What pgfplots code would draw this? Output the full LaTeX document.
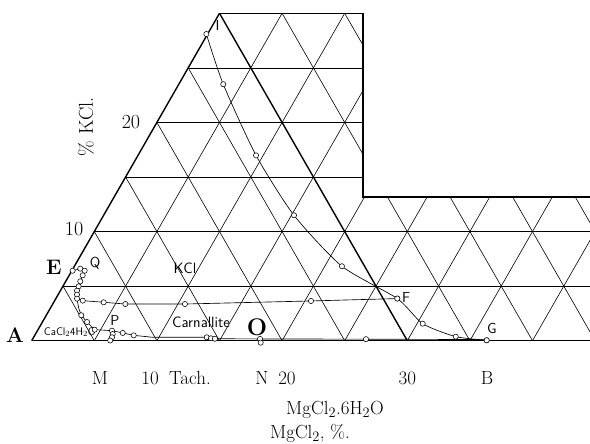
\documentclass[border=0pt]{standalone}
\usepackage{pgfplots}
\pgfplotsset{compat=1.18}
\newcommand{\ser}{\fontsize{19}{22}\selectfont\rmfamily}
\newcommand{\serl}{\fontsize{20}{23}\selectfont\rmfamily}
\newcommand{\serb}{\fontsize{21}{23}\selectfont\rmfamily\bfseries}
\newcommand{\ssm}{\fontsize{15}{17}\selectfont\sffamily}
\newcommand{\ssl}{\fontsize{14.5}{16}\selectfont\sffamily}
\begin{document}
\begin{tikzpicture}
\path[use as bounding box] (0,0) rectangle (590pt,444pt);
\begin{axis}[at={(0,0)}, anchor=south west, scale only axis, width=590pt, height=444pt,
  xmin=-2.532, xmax=44.593, ymin=-9.466, ymax=31.219, hide axis, clip=true,
  grd/.style={black, line width=0.6pt, forget plot},
  thk/.style={black, line width=1.4pt, forget plot},
  dat/.style={black, line width=0.65pt, mark=*, mark size=2.6pt, mark options={fill=white, line width=0.55pt, solid}},
  ]
% ---- horizontal grid lines
\addplot[thk] coordinates {(0,0) (44.7,0)};
\addplot[grd] coordinates {(2.5,5) (44.7,5)};
\addplot[grd] coordinates {(5,10) (44.7,10)};
\addplot[grd] coordinates {(7.5,15) (26.45,15)};
\addplot[grd] coordinates {(10,20) (26.45,20)};
\addplot[grd] coordinates {(12.5,25) (26.45,25)};
\addplot[thk] coordinates {(15,30) (26.45,30)};
% ---- boundary step
\addplot[thk] coordinates {(26.45,30) (26.45,13.15) (44.7,13.15)};
% ---- positive slope lines
\addplot[thk] coordinates {(0,0) (15,30)};
\addplot[grd] coordinates {(5,0) (20,30)};
\addplot[grd] coordinates {(10,0) (25,30)};
\addplot[grd] coordinates {(15,0) (26.45,22.9)};
\addplot[grd] coordinates {(20,0) (26.575,13.15)};
\addplot[grd] coordinates {(25,0) (31.575,13.15)};
\addplot[grd] coordinates {(30,0) (36.575,13.15)};
\addplot[grd] coordinates {(35,0) (41.575,13.15)};
\addplot[grd] coordinates {(40,0) (46.575,13.15)};
% ---- negative slope lines
\addplot[grd] coordinates {(5,0) (2.5,5)};
\addplot[grd] coordinates {(10,0) (5,10)};
\addplot[grd] coordinates {(15,0) (7.5,15)};
\addplot[grd] coordinates {(20,0) (10,20)};
\addplot[grd] coordinates {(25,0) (12.5,25)};
\addplot[thk] coordinates {(30,0) (15,30)};
\addplot[grd] coordinates {(35,0) (28.425,13.15)};
\addplot[grd] coordinates {(26.45,17.1) (20,30)};
\addplot[grd] coordinates {(40,0) (33.425,13.15)};
\addplot[grd] coordinates {(26.45,27.1) (25,30)};
\addplot[grd] coordinates {(45,0) (38.425,13.15)};
\addplot[grd] coordinates {(50,0) (43.425,13.15)};
% ---- curve I - F - G
\addplot[dat, smooth, tension=0.4] coordinates {(13.95,28.1) (15.30,23.50) (17.92,16.98) (20.95,11.49) (24.78,6.82) (29.20,3.86) (31.23,1.56) (33.87,0.37) (36.34,0.04)};
% ---- E cluster descending to P
\addplot[black, line width=0.65pt] coordinates {(3.62,3.85) (3.75,3.00) (3.96,2.33) (4.42,1.71) (5.03,1.01) (6.41,0.92)};
\addplot[dat] coordinates {(3.27,6.41) (3.88,6.60) (4.23,6.41) (4.07,5.99) (3.88,5.44) (3.75,4.98) (3.62,4.58) (3.62,4.22) (3.62,3.85)};
\addplot[dat, only marks] coordinates {(3.96,2.33) (4.42,1.71) (5.03,1.01)};
% ---- E - F horizontal curve
\addplot[dat] coordinates {(4.08,3.67) (5.75,3.52) (7.48,3.36) (12.24,3.36) (22.31,3.64) (29.20,3.86)};
\addplot[black, line width=0.65pt] coordinates {(3.62,3.85) (4.08,3.67)};
% ---- bottom curve P - O - G
\addplot[black, line width=0.65pt] coordinates {(6.41,0.92) (7.27,0.71) (8.15,0.49) (9.69,0.31) (13.98,0.31) (14.32,0.22) (14.64,0.18) (18.24,0.16) (26.70,0.14) (36.34,0.10)};
\addplot[dat, only marks] coordinates {(7.27,0.71) (8.15,0.49) (13.98,0.31) (14.32,0.22) (14.64,0.18) (18.24,0.16) (26.70,0.14) (18.29,-0.18) (36.34,0.04)};
% ---- P stack
\addplot[dat] coordinates {(6.41,0.92) (6.47,0.61) (6.41,0.31) (6.27,0.02)};
% ---- labels
\node[anchor=center] at (axis cs:14.85,28.84) {\ssl I};
\node[anchor=center] at (axis cs:7.93,20.04) {\serl 20};
\node[anchor=center] at (axis cs:3.38,10.24) {\serl 10};
\node[anchor=center, rotate=90] at (axis cs:4.34,19.6) {\serl \% KCl.};
\node[anchor=center] at (axis cs:1.78,6.75) {\serb E};
\node[anchor=center] at (axis cs:5.06,7.12) {\ssl Q};
\node[anchor=center] at (axis cs:-1.33,0.52) {\serb A};
\node[anchor=center, inner sep=0pt] at (axis cs:3.05,0.80) {\fontsize{11}{12}\selectfont\sffamily CaCl$_2$4H$_2$O};
\node[anchor=center] at (axis cs:6.65,1.81) {\ssl P};
\node[anchor=center] at (axis cs:12.24,6.66) {\ssm KCl};
\node[anchor=center] at (axis cs:13.53,1.71) {\ssm Carnallite};
\node[anchor=center] at (axis cs:18.0,1.26) {\fontsize{24}{26}\selectfont\bfseries O};
\node[anchor=center] at (axis cs:29.9,4.0) {\ssl F};
\node[anchor=center] at (axis cs:36.76,1.16) {\ssl G};
\node[anchor=center] at (axis cs:5.46,-3.42) {\ser M};
\node[anchor=center] at (axis cs:9.45,-3.42) {\ser 10};
\node[anchor=center] at (axis cs:12.64,-3.42) {\ser Tach.};
\node[anchor=center] at (axis cs:18.39,-3.42) {\ser N};
\node[anchor=center] at (axis cs:20.39,-3.42) {\ser 20};
\node[anchor=center] at (axis cs:30.0,-3.42) {\ser 30};
\node[anchor=center] at (axis cs:36.37,-3.42) {\ser B};
\node[anchor=center] at (axis cs:24.23,-6.3) {\ser MgCl$_2$.6H$_2$O};
\node[anchor=center] at (axis cs:22.23,-8.5) {\ser MgCl$_2$, \%.};
\end{axis}
\end{tikzpicture}
\end{document}
